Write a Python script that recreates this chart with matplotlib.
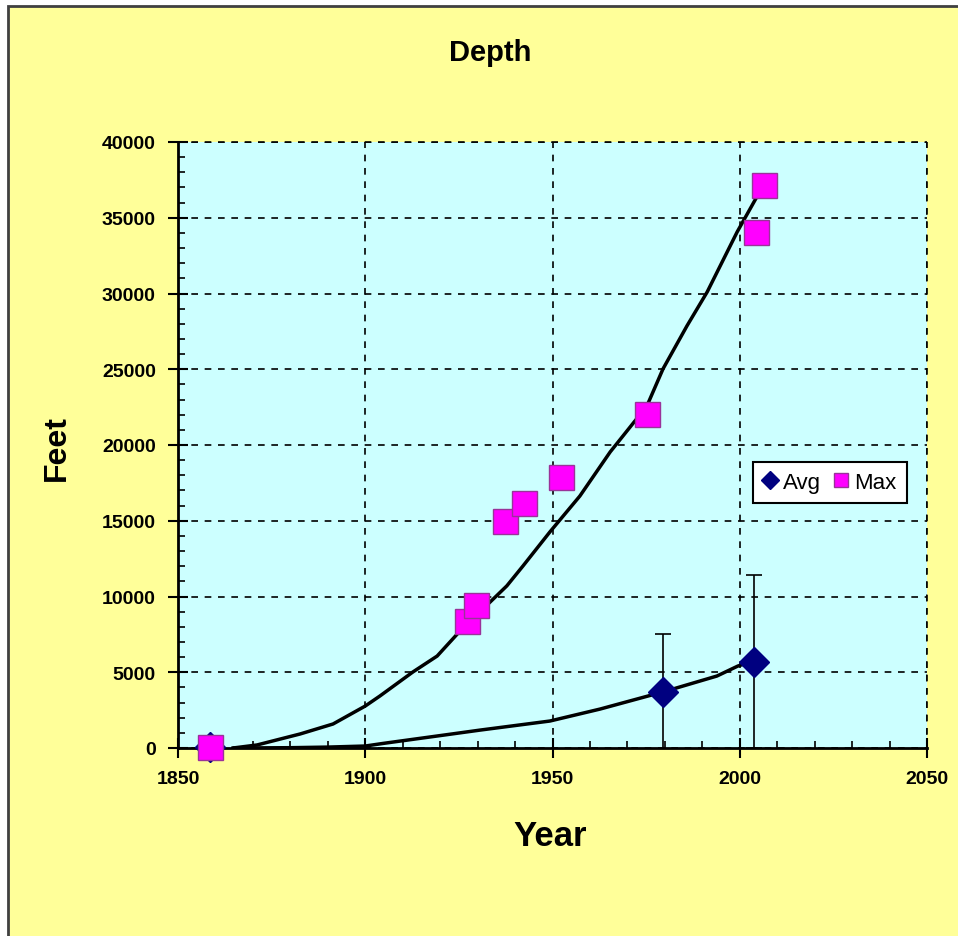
import numpy as np
import matplotlib.pyplot as plt
from matplotlib.patches import Rectangle
from matplotlib.lines import Line2D
from matplotlib.ticker import MultipleLocator

# data
maxYears = [1858.5, 1927.3, 1929.5, 1937.3, 1942.4, 1952.4, 1975.3, 2004.3, 2006.6]
maxDepth = [40, 8400, 9460, 14960, 16150, 17910, 22020, 34080, 37180]

avgYears = [1858.5, 1979.6, 2003.9]
avgDepth = [40, 3690, 5690]
avgErr = [0, 3835, 5700]

# trend lines (traced)
maxTrendYears = [1864.7, 1871.1, 1882.6, 1891.4, 1900.0, 1903.9, 1912.7, 1919.2, 1925.3, 1930.6,
                 1937.8, 1942.1, 1949.3, 1957.3, 1965.4, 1975.2, 1979.5, 1985.9, 1991.3, 1999.3, 2006.2]
maxTrendDepth = [0, 200, 925, 1585, 2770, 3430, 5015, 6070, 7720, 8980,
                 10700, 12010, 14260, 16630, 19540, 22570, 25020, 27860, 30100, 34060, 37100]

avgTrendYears = [1865, 1880, 1890, 1900, 1904.7, 1921.8, 1930.6, 1949.3, 1962.7, 1979.5, 1993.9, 1999.5, 2005.4]
avgTrendDepth = [0, 20, 60, 130, 300, 880, 1180, 1780, 2570, 3700, 4750, 5410, 5875]

yellow = '#FFFF99'
cyan = '#CCFFFF'
magenta = '#FF00FF'
navy = '#000080'

plt.rcParams['font.family'] = ['Liberation Sans', 'DejaVu Sans']

fig = plt.figure(figsize=(9.58, 9.37), dpi=100, facecolor='white')
fig.patches.append(Rectangle((8/958, -0.05), 1.1, (937-7)/937 + 0.05, transform=fig.transFigure,
                             facecolor=yellow, edgecolor='#404040', linewidth=2, zorder=-1))

ax = fig.add_axes([178/958, 1-749/937, (927-178)/958, (749-143)/937])
ax.set_zorder(1)
ax.set_facecolor(cyan)
ax.set_xlim(1850, 2050)
ax.set_ylim(0, 40000)

ax.xaxis.set_major_locator(MultipleLocator(50))
ax.xaxis.set_minor_locator(MultipleLocator(10))
ax.yaxis.set_major_locator(MultipleLocator(5000))
ax.yaxis.set_minor_locator(MultipleLocator(1000))
ax.tick_params(which='major', direction='inout', length=14, width=1.5, labelsize=14, pad=9)
ax.tick_params(which='minor', direction='in', length=5, width=1.2)
for lab in ax.get_xticklabels() + ax.get_yticklabels():
    lab.set_fontweight('bold')

ax.grid(True, which='major', color='black', linestyle=(0, (4, 4)), linewidth=1.2)
ax.spines['top'].set_visible(False)
ax.spines['right'].set_visible(False)
ax.spines['left'].set_linewidth(2)
ax.spines['bottom'].set_linewidth(2)
# dashed frame on top/right like the grid
ax.axhline(40000, color='black', linestyle=(0, (4, 4)), linewidth=1.2, clip_on=False)
ax.axvline(2050, color='black', linestyle=(0, (4, 4)), linewidth=1.2, clip_on=False)

ax.plot(maxTrendYears, maxTrendDepth, color='black', linewidth=2.5, zorder=3)
ax.plot(avgTrendYears, avgTrendDepth, color='black', linewidth=2.5, zorder=3)

eb = ax.errorbar(avgYears, avgDepth, yerr=avgErr, fmt='D', color=navy, markersize=15,
                 ecolor='black', elinewidth=1.2, capsize=6, capthick=1.2, zorder=4)
eb[0].set_clip_on(False)
ax.plot(maxYears, maxDepth, 's', color=magenta, markeredgecolor='#993399', markeredgewidth=1,
        markersize=18, linestyle='none', zorder=5, clip_on=False)

handles = [Line2D([], [], marker='D', color=navy, markersize=9, linestyle='none'),
           Line2D([], [], marker='s', color=magenta, markeredgecolor='#993399', markersize=10, linestyle='none')]
leg = ax.legend(handles, ['Avg', 'Max'], loc='upper left', bbox_to_anchor=((753-178)/749, (749-463)/606),
                ncol=2, fontsize=16, frameon=True, fancybox=False, edgecolor='black',
                framealpha=1, handlelength=0.6, handletextpad=0.3,
                columnspacing=0.6, borderpad=0.45, borderaxespad=0)
leg.get_frame().set_linewidth(1.5)

fig.text(490/958, 1-53/937, 'Depth', ha='center', va='center', fontsize=21, fontweight='bold')
fig.text(550/958, 1-836/937, 'Year', ha='center', va='center', fontsize=25, fontweight='bold')
fig.text(57/958, 1-448/937, 'Feet', ha='center', va='center', rotation=90, fontsize=23, fontweight='bold')

fig.savefig('out.png', dpi=100, facecolor=fig.get_facecolor())
